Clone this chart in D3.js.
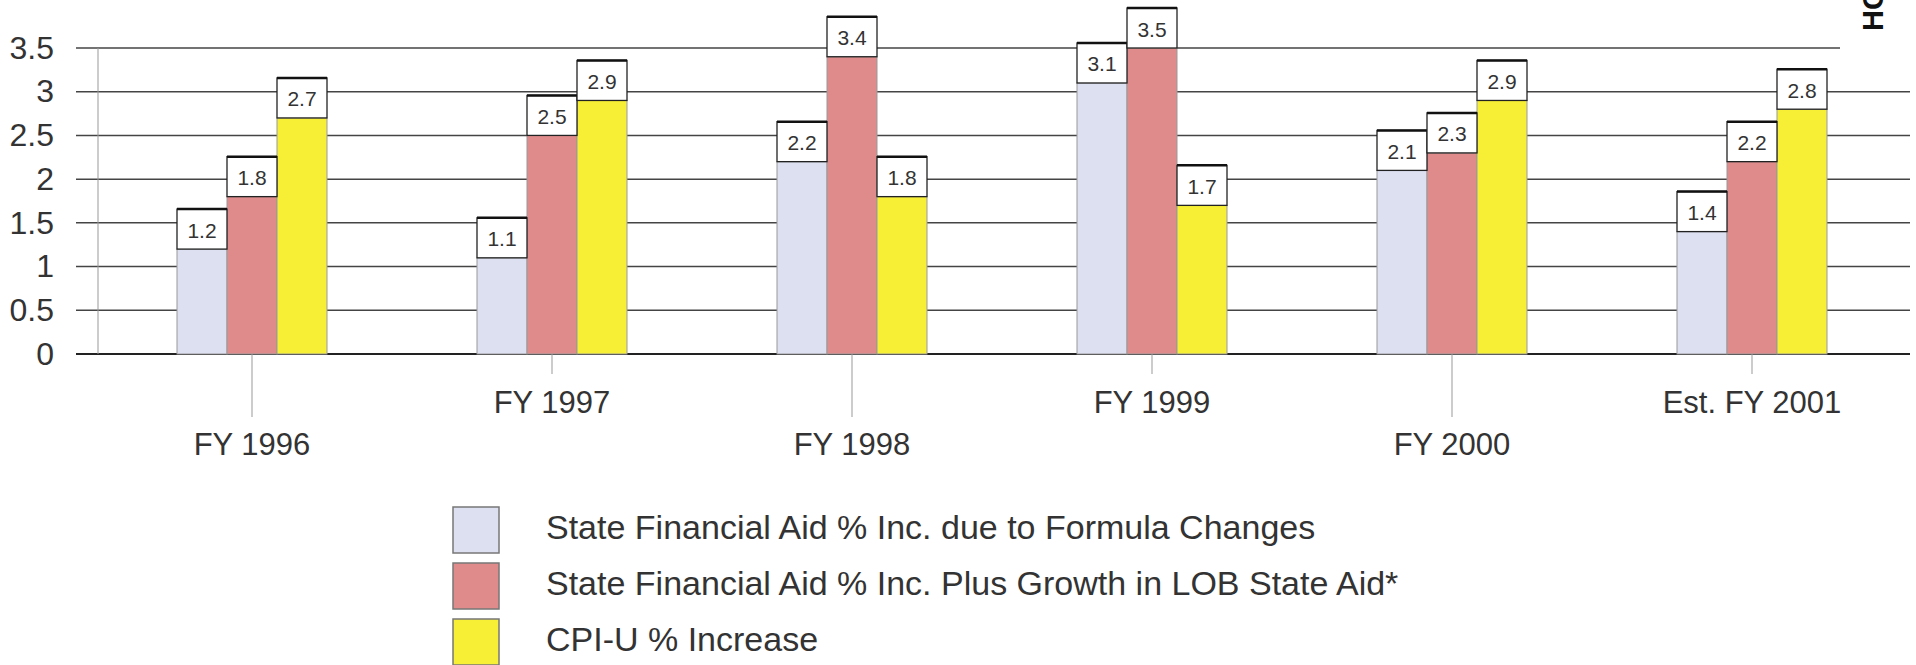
<!DOCTYPE html>
<html>
<head>
<meta charset="utf-8">
<script src="https://cdn.jsdelivr.net/npm/d3@7"></script>
<style>
  body { margin: 0; background: #fff; }
  svg { display: block; font-family: "Liberation Sans", Arial, sans-serif; }
</style>
</head>
<body>
<svg id="chart"></svg>
<script>
// data
var categories = ["FY 1996", "FY 1997", "FY 1998", "FY 1999", "FY 2000", "Est. FY 2001"];
var seriesNames = [
  "State Financial Aid % Inc. due to Formula Changes",
  "State Financial Aid % Inc. Plus Growth in LOB State Aid*",
  "CPI-U % Increase"
];
var formulaChanges = [1.2, 1.1, 2.2, 3.1, 2.1, 1.4];
var plusLobGrowth = [1.8, 2.5, 3.4, 3.5, 2.3, 2.2];
var cpiU = [2.7, 2.9, 1.8, 1.7, 2.9, 2.8];
var yTicks = [0, 0.5, 1, 1.5, 2, 2.5, 3, 3.5];

var seriesValues = [formulaChanges, plusLobGrowth, cpiU];
var colors = ["#dde0f1", "#e08b8b", "#f6ef36"];

var W = 1916, H = 665;
var svg = d3.select("#chart").attr("width", W).attr("height", H);

var y = d3.scaleLinear().domain([0, 3.5]).range([354, 48]);
var x = d3.scaleBand().domain(categories).range([102, 1902]);
var xs = d3.scaleBand().domain(d3.range(seriesNames.length)).range([-75, 75]);

var rows = [];
categories.forEach(function(c, i) {
  seriesValues.forEach(function(vals, s) {
    rows.push({ cat: c, idx: i, s: s, v: vals[i] });
  });
});

// gridlines
svg.append("g").selectAll("line").data(yTicks).join("line")
  .attr("x1", 76)
  .attr("x2", d => d === 3.5 ? 1840 : 1910)
  .attr("y1", d => y(d)).attr("y2", d => y(d))
  .attr("stroke", d => d === 0 ? "#222" : "#444")
  .attr("stroke-width", d => d === 0 ? 2 : 1.5);

// left frame line
svg.append("line")
  .attr("x1", 98).attr("x2", 98)
  .attr("y1", y(3.5)).attr("y2", y(0))
  .attr("stroke", "#999").attr("stroke-width", 1);

// y axis labels
var yAxis = svg.append("g").attr("transform", "translate(76,0)")
  .call(d3.axisLeft(y).tickValues(yTicks).tickSize(0).tickPadding(22).tickFormat(d3.format("")));
yAxis.select(".domain").remove();
yAxis.selectAll("text").attr("font-size", 32).attr("fill", "#333")
  .attr("font-family", "Liberation Sans, Arial, sans-serif");

// category ticks and labels (staggered)
var cx = d => x(d) + x.bandwidth() / 2;
svg.append("g").selectAll("line").data(categories).join("line")
  .attr("x1", cx).attr("x2", cx)
  .attr("y1", y(0))
  .attr("y2", (d, i) => i % 2 === 0 ? 417 : 374)
  .attr("stroke", "#999").attr("stroke-width", 1);

svg.append("g").selectAll("text").data(categories).join("text")
  .attr("x", cx)
  .attr("y", (d, i) => i % 2 === 0 ? 455 : 413)
  .attr("text-anchor", "middle")
  .attr("font-size", 31)
  .attr("fill", "#333")
  .text(d => d);

// bars
svg.append("g").selectAll("rect").data(rows).join("rect")
  .attr("x", d => cx(d.cat) + xs(d.s))
  .attr("width", xs.bandwidth())
  .attr("y", d => y(d.v))
  .attr("height", d => y(0) - y(d.v))
  .attr("fill", d => colors[d.s])
  .attr("stroke", "#999").attr("stroke-width", 1);

// value boxes
var boxH = 40;
var boxes = svg.append("g").selectAll("g").data(rows).join("g")
  .attr("transform", d => `translate(${cx(d.cat) + xs(d.s)}, ${y(d.v) - boxH})`);
boxes.append("rect")
  .attr("width", xs.bandwidth()).attr("height", boxH)
  .attr("fill", "#fff").attr("stroke", "#222").attr("stroke-width", 1.3);
boxes.append("line")
  .attr("x1", 0).attr("x2", xs.bandwidth())
  .attr("y1", 0).attr("y2", 0)
  .attr("stroke", "#111").attr("stroke-width", 2.5);
boxes.append("text")
  .attr("x", xs.bandwidth() / 2).attr("y", boxH / 2 + 1)
  .attr("text-anchor", "middle").attr("dominant-baseline", "central")
  .attr("font-size", 21).attr("fill", "#333")
  .text(d => d.v.toFixed(1));

// legend
var legend = svg.append("g").selectAll("g").data(seriesNames).join("g")
  .attr("transform", (d, i) => `translate(453, ${507 + i * 56})`);
legend.append("rect")
  .attr("width", 46).attr("height", 46)
  .attr("fill", (d, i) => colors[i])
  .attr("stroke", "#777").attr("stroke-width", 1.5);
legend.append("text")
  .attr("x", 93).attr("y", 20)
  .attr("dominant-baseline", "central")
  .attr("font-size", 34).attr("fill", "#333")
  .text(d => d);

// clipped page heading at the top right corner
svg.append("text")
  .attr("transform", "translate(1883, 31) rotate(-90)")
  .attr("font-size", 29).attr("font-weight", "bold").attr("fill", "#111")
  .text("HO");
</script>
</body>
</html>
